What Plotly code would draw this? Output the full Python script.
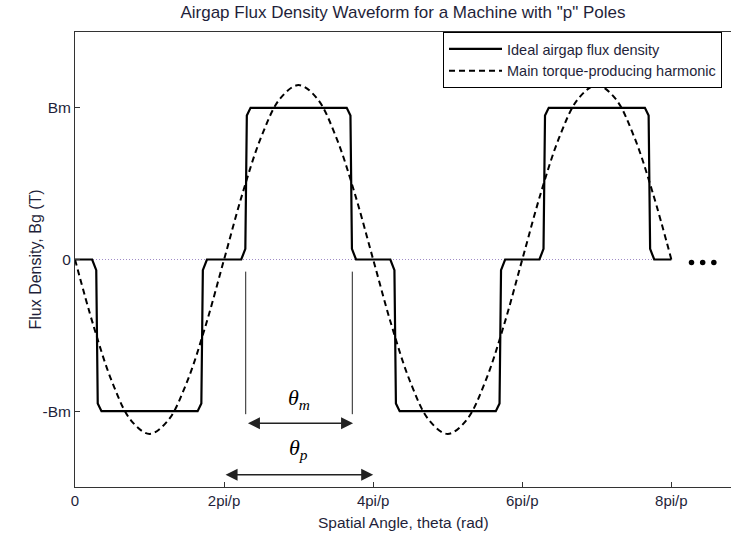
import plotly.graph_objects as go

# x values in units of pi/p
sq_x = [0, 0.23, 0.285, 0.305, 0.355, 1.645, 1.695, 1.715, 1.77,
        2.23, 2.285, 2.305, 2.355, 3.645, 3.695, 3.715, 3.77,
        4.23, 4.285, 4.305, 4.355, 5.645, 5.695, 5.715, 5.77,
        6.23, 6.285, 6.305, 6.355, 7.645, 7.695, 7.715, 7.77, 8.0]
sq_y = [0, 0, -0.07, -0.95, -1, -1, -0.95, -0.07, 0,
        0, 0.07, 0.95, 1, 1, 0.95, 0.07, 0,
        0, -0.07, -0.95, -1, -1, -0.95, -0.07, 0,
        0, 0.07, 0.95, 1, 1, 0.95, 0.07, 0, 0]

harm_x = [0, 0.25, 0.5, 0.75, 1, 1.25, 1.5, 1.75, 2, 2.25, 2.5, 2.75, 3, 3.25, 3.5, 3.75,
          4, 4.25, 4.5, 4.75, 5, 5.25, 5.5, 5.75, 6, 6.25, 6.5, 6.75, 7, 7.25, 7.5, 7.75, 8]
harm_y = [0, -0.44, -0.81, -1.06, -1.15, -1.06, -0.81, -0.44, 0, 0.44, 0.81, 1.06, 1.15, 1.06, 0.81, 0.44,
          0, -0.44, -0.81, -1.06, -1.15, -1.06, -0.81, -0.44, 0, 0.44, 0.81, 1.06, 1.15, 1.06, 0.81, 0.44, 0]

zero_x = [0, 8]
zero_y = [0, 0]

dots_x = [8.27, 8.42, 8.57]
dots_y = [-0.02, -0.02, -0.02]

x_tickvals = [0, 2, 4, 6, 8]
x_ticktext = ["0", "2pi/p", "4pi/p", "6pi/p", "8pi/p"]
y_tickvals = [-1, 0, 1]
y_ticktext = ["-Bm", "0", "Bm"]

theta_m = (2.29, 3.72)
theta_p = (2.0, 4.0)

FONT = "Liberation Sans, Arial, sans-serif"
AX = "#333333"
TXT = "#1f1f3a"

fig = go.Figure()
fig.add_trace(go.Scatter(x=zero_x, y=zero_y, mode="lines", showlegend=False,
                         line=dict(color="#a08cc8", width=1, dash="1px,2px"), hoverinfo="skip"))
fig.add_trace(go.Scatter(x=sq_x, y=sq_y, mode="lines", name="Ideal airgap flux density",
                         line=dict(color="black", width=2.2)))
fig.add_trace(go.Scatter(x=harm_x, y=harm_y, mode="lines", name="Main torque-producing harmonic",
                         line=dict(color="black", width=2, dash="6px,4px", shape="spline")))
fig.add_trace(go.Scatter(x=dots_x, y=dots_y, mode="markers", showlegend=False,
                         marker=dict(color="black", size=5.5)))

# vertical guide lines
for xv in theta_m:
    fig.add_shape(type="line", x0=xv, x1=xv, y0=-0.08, y1=-1.02, xref="x", yref="y",
                  line=dict(color="#222", width=1))

# double arrows
def darrow(x0, x1, y):
    fig.add_annotation(x=x1, y=y, ax=x0, ay=y, xref="x", yref="y", axref="x", ayref="y",
                       text="", showarrow=True, arrowside="end+start", arrowhead=2,
                       arrowsize=1.6, arrowwidth=1.5, arrowcolor="#222")

darrow(theta_m[0] + 0.01, theta_m[1] + 0.01, -1.08)
darrow(theta_p[0], theta_p[1], -1.42)

fig.add_annotation(x=3.0, y=-0.92, xref="x", yref="y", showarrow=False,
                   text="<i>θ<sub>m</sub></i>",
                   font=dict(family="Liberation Serif, Times New Roman, serif", size=22, color="black"))
fig.add_annotation(x=3.0, y=-1.25, xref="x", yref="y", showarrow=False,
                   text="<i>θ<sub>p</sub></i>",
                   font=dict(family="Liberation Serif, Times New Roman, serif", size=22, color="black"))

# axis titles
fig.add_annotation(x=0.5, y=-(522 - 487) / 455, xref="paper", yref="paper", showarrow=False,
                   text="Spatial Angle, theta (rad)", yanchor="middle",
                   font=dict(family=FONT, size=15.5, color=TXT))
fig.add_annotation(x=(35 - 75) / 656, y=0.5, xref="paper", yref="paper", showarrow=False,
                   text="Flux Density, Bg (T)", textangle=-90, xanchor="center", yanchor="middle",
                   font=dict(family=FONT, size=16, color=TXT))

fig.update_layout(
    width=732, height=535,
    margin=dict(l=75, r=1, t=32, b=48),
    paper_bgcolor="white", plot_bgcolor="white",
    font=dict(family=FONT, size=15, color=TXT),
    title=dict(text='Airgap Flux Density Waveform for a Machine with "p" Poles',
               x=0.5, xref="paper", y=1 - 12 / 535, yref="container", yanchor="middle",
               font=dict(family=FONT, size=17, color=TXT)),
    legend=dict(x=(443 - 75) / 656, y=1, xanchor="left", yanchor="top",
                bordercolor="black", borderwidth=1, bgcolor="white",
                font=dict(family=FONT, size=14.5, color=TXT),
                tracegroupgap=0, itemwidth=53),
    xaxis=dict(range=[0, 8.8], tickvals=x_tickvals, ticktext=x_ticktext,
               tickfont=dict(family=FONT, size=15, color=TXT),
               showgrid=False, zeroline=False, showline=True, linecolor=AX, linewidth=1,
               mirror=True, ticks="inside", ticklen=5, tickcolor=AX),
    yaxis=dict(range=[-1.5, 1.5], tickvals=y_tickvals, ticktext=y_ticktext,
               tickfont=dict(family=FONT, size=15.5, color=TXT),
               showgrid=False, zeroline=False, showline=True, linecolor=AX, linewidth=1,
               mirror=False, ticks="inside", ticklen=5, tickcolor=AX),
    showlegend=True,
)

fig.write_html("out.html")
